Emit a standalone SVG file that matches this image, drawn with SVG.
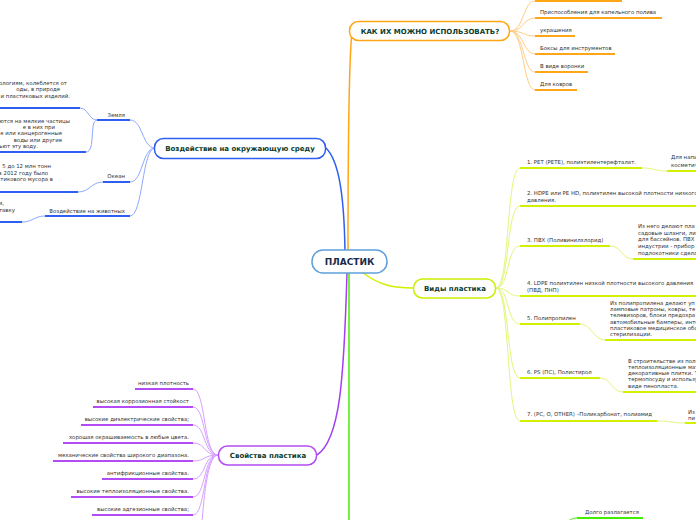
<svg xmlns="http://www.w3.org/2000/svg" width="696" height="520" viewBox="0 0 696 520">
<style>
text{font-family:"DejaVu Sans","Liberation Sans",sans-serif;}
.t{font-size:5.4px;fill:#333;}
.n{font-size:7px;font-weight:bold;fill:#0b3b2e;}
.c{font-size:9px;font-weight:bold;fill:#1b2a49;}
.e{text-anchor:end;}
.box{fill:#fff;stroke-width:1.5;}
path{fill:none;}
.bu{stroke:#2f5ef0;stroke-width:2;}
.bc{stroke:#8ea9ff;stroke-width:1;}
.ou{stroke:#ffa617;stroke-width:2;}
.oc{stroke:#ffcc85;stroke-width:1;}
.yu{stroke:#d2f000;stroke-width:2;}
.yc{stroke:#e4f57c;stroke-width:1;}
.pu{stroke:#b44cf5;stroke-width:2;}
.pc{stroke:#d6a0ff;stroke-width:1;}
.gu{stroke:#44ee00;stroke-width:2;}
</style>
<g id="connectors">
<path d="M349,273 C349,400 349,480 349,520" stroke="#44ee00" stroke-width="1.5"/>
<path d="M348,251 C348,150 349,60 352,31" stroke="#ffa617" stroke-width="1.5"/>
<path d="M345,251 C344,190 338,160 326,148" stroke="#2f5ef0" stroke-width="1.5"/>
<path d="M347,272 C344,380 340,440 317,455" stroke="#a33ff0" stroke-width="1.5"/>
<path d="M362,272 C380,286 395,288 413,288" stroke="#d2f000" stroke-width="1.5"/>
<path class="bc" d="M155,148 C142,148 143,120 130,120"/>
<path class="bc" d="M155,148 C142,148 143,182 130,182"/>
<path class="bc" d="M155,148 C142,148 143,216 130,216"/>
<path class="bc" d="M97,120 C89,120 88,108 80,108"/>
<path class="bc" d="M97,120 C89,120 96,152 86,152"/>
<path class="bc" d="M103,182 C91,182 90,192 78,192"/>
<path class="bc" d="M45,216 C34,216 33,222 22,222"/>
<path class="oc" d="M510,31 C524,31 523,1 535,1"/>
<path class="oc" d="M510,31 C524,31 523,18 535,18"/>
<path class="oc" d="M510,31 C524,31 523,36 535,36"/>
<path class="oc" d="M510,31 C524,31 523,54 535,54"/>
<path class="oc" d="M510,31 C524,31 523,72 535,72"/>
<path class="oc" d="M510,31 C524,31 523,90 535,90"/>
<path class="yc" d="M496,288 C510,288 506,168 520,168"/>
<path class="yc" d="M496,288 C510,288 506,206 520,206"/>
<path class="yc" d="M496,288 C510,288 506,246 520,246"/>
<path class="yc" d="M496,288 C510,288 506,296 520,296"/>
<path class="yc" d="M496,288 C510,288 506,324 520,324"/>
<path class="yc" d="M496,288 C510,288 506,378 520,378"/>
<path class="yc" d="M496,288 C510,288 506,421 520,421"/>
<path class="yc" d="M642,168 C655,168 654,171 667,171"/>
<path class="yc" d="M610,246 C622,246 621,259 633,259"/>
<path class="yc" d="M580,324 C592,324 593,340 605,340"/>
<path class="yc" d="M600,378 C612,378 611,392 623,392"/>
<path class="yc" d="M657,421 C671,421 671,423 685,423"/>
<path class="pc" d="M218,455 C203,455 206,389 193,389"/>
<path class="pc" d="M218,455 C203,455 206,407 193,407"/>
<path class="pc" d="M218,455 C203,455 206,425 193,425"/>
<path class="pc" d="M218,455 C203,455 206,443 193,443"/>
<path class="pc" d="M218,455 C203,455 206,461 193,461"/>
<path class="pc" d="M218,455 C203,455 206,479 193,479"/>
<path class="pc" d="M218,455 C203,455 206,497 193,497"/>
<path class="pc" d="M218,455 C203,455 206,515 193,515"/>
<path class="pc" d="M218,455 C205,455 203,520 201,530"/>
<path d="M577,518 C570,518 568,522 560,526" stroke="#44ee00" stroke-width="1"/>
</g>
<g id="center">
<rect class="box" x="312" y="250" width="75" height="23" rx="11" stroke="#5e9fdc"/>
<text class="c" x="349.5" y="265" text-anchor="middle">ПЛАСТИК</text>
</g>
<g id="impact">
<rect class="box" x="154.5" y="138.5" width="171" height="20" rx="9" stroke="#2f5ef0"/>
<text class="n" x="240" y="151" text-anchor="middle">Воздействие на окружающую среду</text>
</g>
<g id="earth">
<path class="bu" d="M97,120 H130"/>
<text class="t e" x="125" y="116.5">Земля</text>
</g>
<g id="earth-1">
<path class="bu" d="M0,108 H80"/>
<text class="t e" x="67" y="85">ологиям, колеблется от</text>
<text class="t e" x="60" y="91.3">оды, в природе</text>
<text class="t e" x="70" y="97.5">и пластиковых изделий.</text>
</g>
<g id="earth-2">
<path class="bu" d="M0,152 H86"/>
<text class="t e" x="70" y="123">ются на мелкие частицы</text>
<text class="t e" x="55" y="129">е в них при</text>
<text class="t e" x="62" y="135">е или канцерогенные</text>
<text class="t e" x="62" y="141.5">воды или другие</text>
<text class="t e" x="38" y="148">ьют эту воду.</text>
</g>
<g id="ocean">
<path class="bu" d="M103,182 H130"/>
<text class="t e" x="125" y="178">Океан</text>
</g>
<g id="ocean-1">
<path class="bu" d="M0,192 H78"/>
<text class="t e" x="51" y="168">5 до 12 млн тонн</text>
<text class="t e" x="48" y="174.5">в 2012 году было</text>
<text class="t e" x="53" y="181">тикового мусора в</text>
</g>
<g id="animals">
<path class="bu" d="M45,216 H130"/>
<text class="t e" x="125" y="212.5">Воздействие на животных</text>
</g>
<g id="animals-1">
<path class="bu" d="M0,222 H22"/>
<text class="t e" x="4" y="205">и,</text>
<text class="t e" x="15" y="212">тавку</text>
</g>
<g id="use">
<rect class="box" x="349.5" y="21.5" width="160" height="19" rx="9" stroke="#ffa617"/>
<text class="n" x="430" y="33.5" text-anchor="middle">КАК ИХ МОЖНО ИСПОЛЬЗОВАТЬ?</text>
</g>
<g id="use-0"><path class="ou" d="M535,1 H622"/></g>
<g id="use-1"><path class="ou" d="M535,18 H662"/><text class="t" x="540" y="14">Приспособления для капельного полива</text></g>
<g id="use-2"><path class="ou" d="M535,36 H575"/><text class="t" x="540" y="32">украшения</text></g>
<g id="use-3"><path class="ou" d="M535,54 H615"/><text class="t" x="540" y="50">Боксы для инструментов</text></g>
<g id="use-4"><path class="ou" d="M535,72 H588"/><text class="t" x="540" y="68">В виде воронки</text></g>
<g id="use-5"><path class="ou" d="M535,90 H577"/><text class="t" x="540" y="86">Для ковров</text></g>
<g id="types">
<rect class="box" x="413.5" y="279" width="82" height="19" rx="9" stroke="#ccee00"/>
<text class="n" x="455" y="291" text-anchor="middle">Виды пластика</text>
</g>
<g id="type-1"><path class="yu" d="M520,168 H642"/><text class="t" x="527" y="164">1. PET (PETE), полиэтилентерефталат.</text></g>
<g id="type-1a"><path class="yu" d="M667,171 H696"/><text class="t" x="671" y="159">Для напи</text><text class="t" x="671" y="166.5">косметич</text></g>
<g id="type-2"><path class="yu" d="M520,206 H696"/><text class="t" x="527" y="195">2. HDPE или PE HD, полиэтилен высокой плотности низкого</text><text class="t" x="527" y="202">давления.</text></g>
<g id="type-3"><path class="yu" d="M520,246 H610"/><text class="t" x="527" y="242">3. ПВХ (Поливинилхлорид)</text></g>
<g id="type-3a"><path class="yu" d="M633,259 H696"/>
<text class="t" x="638" y="228">Из него делают пла</text>
<text class="t" x="638" y="234.5">садовые шланги, ли</text>
<text class="t" x="638" y="241">для бассейнов. ПВХ</text>
<text class="t" x="638" y="247.5">индустрии - прибор</text>
<text class="t" x="638" y="254.5">подлокотники сдела</text>
</g>
<g id="type-4"><path class="yu" d="M520,296 H696"/><text class="t" x="527" y="285">4. LDPE полиэтилен низкой плотности высокого давления</text><text class="t" x="527" y="292">(ПВД, ПНП)</text></g>
<g id="type-5"><path class="yu" d="M520,324 H580"/><text class="t" x="527" y="320">5. Полипропилен</text></g>
<g id="type-5a"><path class="yu" d="M605,340 H696"/>
<text class="t" x="610" y="304.5">Из полипропилена делают уп</text>
<text class="t" x="610" y="311">ламповые патроны, ковры, те</text>
<text class="t" x="610" y="317">телевизоров, блоки предохра</text>
<text class="t" x="610" y="323.5">автомобильные бамперы, инте</text>
<text class="t" x="610" y="330">пластиковое медицинское обо</text>
<text class="t" x="610" y="336">стерилизации.</text>
</g>
<g id="type-6"><path class="yu" d="M520,378 H600"/><text class="t" x="527" y="374">6. PS (ПС), Полистирол</text></g>
<g id="type-6a"><path class="yu" d="M623,392 H696"/>
<text class="t" x="628" y="362.5">В строительстве из поли</text>
<text class="t" x="628" y="368.5">теплоизоляционные мат</text>
<text class="t" x="628" y="375">декоративные плитки. Т</text>
<text class="t" x="628" y="381.3">термопосуду и использу</text>
<text class="t" x="628" y="387.5">виде пенопласта.</text>
</g>
<g id="type-7"><path class="yu" d="M520,421 H657"/><text class="t" x="527" y="416">7. (PC, O, OTHER) –Поликарбонат, полиамид</text></g>
<g id="type-7a"><path class="yu" d="M685,423 H696"/><text class="t" x="688" y="413.5">Из</text><text class="t" x="688" y="419.5">пи</text></g>
<g id="props">
<rect class="box" x="218.5" y="446" width="98" height="19" rx="9" stroke="#b44cf5"/>
<text class="n" x="268" y="458" text-anchor="middle">Свойства пластика</text>
</g>
<g id="prop-1"><path class="pu" d="M135,389 H193"/><text class="t e" x="189" y="385">низкая плотность</text></g>
<g id="prop-2"><path class="pu" d="M93,407 H193"/><text class="t e" x="189" y="403">высокая коррозионная стойкост</text></g>
<g id="prop-3"><path class="pu" d="M81,425 H193"/><text class="t e" x="189" y="421">высокие диэлектрические свойства;</text></g>
<g id="prop-4"><path class="pu" d="M63,443 H193"/><text class="t e" x="189" y="439">хорошая окрашиваемость в любые цвета.</text></g>
<g id="prop-5"><path class="pu" d="M53,461 H193"/><text class="t e" x="189" y="457">механические свойства широкого диапазона.</text></g>
<g id="prop-6"><path class="pu" d="M102,479 H193"/><text class="t e" x="189" y="475">антифрикционные свойства.</text></g>
<g id="prop-7"><path class="pu" d="M71,497 H193"/><text class="t e" x="189" y="493">высокие теплоизоляционные свойства.</text></g>
<g id="prop-8"><path class="pu" d="M92,515 H193"/><text class="t e" x="189" y="511">высокие адгезионные свойства;</text></g>
<g id="decay"><path class="gu" d="M577,518 H643"/><text class="t" x="585" y="514">Долго разлагается</text></g>
</svg>
